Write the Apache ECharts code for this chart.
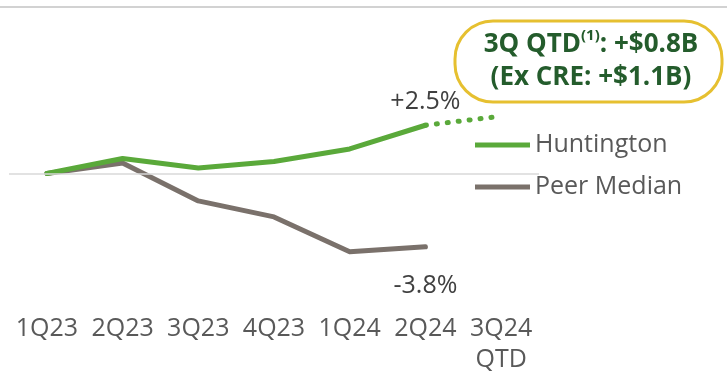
<!DOCTYPE html>
<html>
<head>
<meta charset="utf-8">
<script src="https://cdn.jsdelivr.net/npm/echarts@6/dist/echarts.min.js"></script>
<style>
  html, body { margin: 0; padding: 0; background: #fff; }
  #grafica { width: 727px; height: 377px; }
</style>
</head>
<body>
<div id="grafica"></div>
<script>
var trimestres = ["1Q23", "2Q23", "3Q23", "4Q23", "1Q24", "2Q24", "3Q24\nQTD"];
var huntington = [0, 0.78, 0.29, 0.62, 1.27, 2.5, null];
var huntingtonQtd = [null, null, null, null, null, 2.5, 2.97];
var peerMedian = [0, 0.54, -1.42, -2.25, -4.05, -3.8, null];
var indiceEtiqueta = 5;

var fuente = "'Open Sans', 'DejaVu Sans', sans-serif";
var colores = {
  verde: "#5aa93a",
  gris: "#7a716b",
  texto: "#595959",
  verdeOscuro: "#245c2c",
  dorado: "#e6c030"
};

function etiquetaPct(p) {
  if (p.dataIndex !== indiceEtiqueta) return "";
  return (p.value > 0 ? "+" : "") + p.value.toFixed(1) + "%";
}

document.addEventListener("DOMContentLoaded", function () {
  var chart = echarts.init(document.getElementById("grafica"));
  var option = {
    animation: false,
    textStyle: { fontFamily: fuente },
    grid: { left: 9, right: 188, top: 19.1, bottom: 68.4, containLabel: false },
    xAxis: {
      type: "category",
      data: trimestres,
      boundaryGap: true,
      axisLine: { show: false },
      axisTick: { show: false },
      axisLabel: {
        interval: 0,
        margin: 5,
        fontSize: 25,
        lineHeight: 31,
        color: colores.texto,
        fontFamily: fuente
      }
    },
    yAxis: { type: "value", min: -7, max: 8, show: false, splitLine: { show: false } },
    legend: {
      data: ["Huntington", "Peer Median"],
      orient: "vertical",
      left: 470,
      top: 126,
      itemWidth: 55,
      itemHeight: 5,
      itemGap: 14,
      icon: "rect",
      textStyle: { fontSize: 25, lineHeight: 28, color: colores.texto, fontFamily: fuente }
    },
    graphic: [
      {
        type: "line",
        shape: { x1: 0, y1: 7, x2: 727, y2: 7 },
        style: { stroke: "#d2d2d2", lineWidth: 2 }
      },
      {
        type: "rect",
        shape: { x: 455, y: 21, width: 267, height: 81, r: 38 },
        style: { fill: "#fff", stroke: colores.dorado, lineWidth: 3 }
      },
      {
        type: "text",
        x: 591,
        y: 61,
        style: {
          text: "{b|3Q QTD}{s|(1)}{b|: +$0.8B}\n{b|(Ex CRE: +$1.1B)}",
          align: "center",
          verticalAlign: "middle",
          rich: {
            b: { fontSize: 26, fontWeight: "bold", fill: colores.verdeOscuro, lineHeight: 33, fontFamily: fuente },
            s: { fontSize: 15, fontWeight: "bold", fill: colores.verdeOscuro, lineHeight: 19, verticalAlign: "top", fontFamily: fuente }
          }
        }
      }
    ],
    series: [
      {
        name: "Huntington",
        type: "line",
        data: huntington,
        symbol: "circle",
        symbolSize: 2,
        showSymbol: true,
        color: colores.verde,
        lineStyle: { width: 5, cap: "round", join: "round" },
        label: {
          show: true,
          position: "top",
          distance: 10,
          formatter: etiquetaPct,
          fontSize: 25,
          color: "#404040",
          fontFamily: fuente
        },
        markLine: {
          silent: true,
          symbol: "none",
          label: { show: false },
          lineStyle: { color: "#d9d9d9", width: 1.5, type: "solid" },
          data: [{ yAxis: 0 }]
        },
        z: 3
      },
      {
        name: "Huntington QTD",
        type: "line",
        data: huntingtonQtd,
        symbol: "none",
        color: colores.verde,
        lineStyle: { width: 5, type: [1, 10], cap: "round" },
        z: 3
      },
      {
        name: "Peer Median",
        type: "line",
        data: peerMedian,
        symbol: "circle",
        symbolSize: 2,
        showSymbol: true,
        color: colores.gris,
        lineStyle: { width: 5, cap: "round", join: "round" },
        label: {
          show: true,
          position: "bottom",
          distance: 26,
          formatter: etiquetaPct,
          fontSize: 25,
          color: "#404040",
          fontFamily: fuente
        },
        z: 2
      }
    ]
  };
  chart.setOption(option);
});
</script>
</body>
</html>
